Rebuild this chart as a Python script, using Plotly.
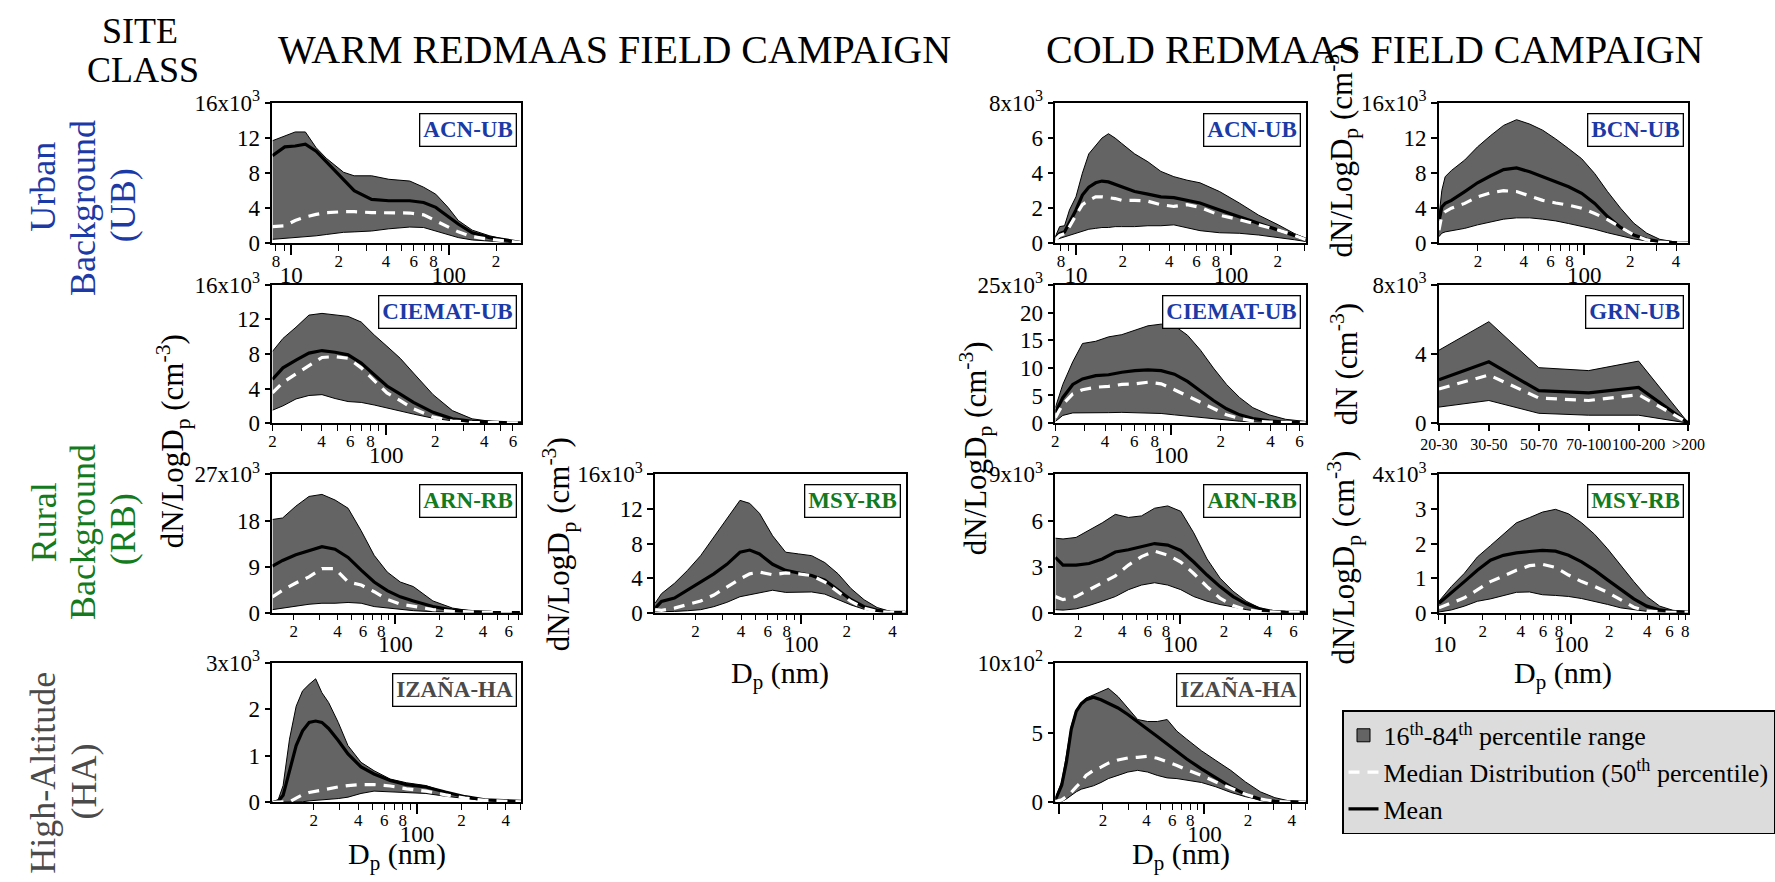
import math
import plotly.graph_objects as go

W, H = 1775, 882
SERIF = "Liberation Serif"
BLUE = "#1c3aa6"
GREEN = "#137a1e"
GREY_T = "#4a4a4a"
FILL = "#646464"

# ---------------- DATA (dN/dlogDp in units of the axis multiplier) ----------------
# WARM campaign
w_acn_dp = [7.6, 9.1, 10.6, 12.3, 14.4, 16.7, 21.5, 25.1, 32.4, 41.7, 56.6, 69.3, 82.8, 99, 115, 141, 182, 235, 288]
w_acn_p84 = [11.7, 12.2, 12.7, 12.7, 10.9, 9.7, 8.1, 7.7, 7.7, 7.3, 7.1, 6.4, 5.6, 4.1, 2.6, 1.5, 0.85, 0.4, 0.1]
w_acn_mean = [10.0, 11.0, 11.1, 11.3, 10.5, 9.3, 7.3, 6.0, 5.0, 4.85, 4.85, 4.65, 4.1, 3.1, 2.2, 1.2, 0.65, 0.35, 0.08]
w_acn_median = [1.9, 2.0, 2.6, 3.0, 3.3, 3.5, 3.6, 3.6, 3.5, 3.5, 3.45, 3.25, 2.55, 1.9, 1.3, 0.76, 0.45, 0.25, 0.05]
w_acn_p16 = [0.45, 0.55, 0.65, 0.75, 0.85, 1.0, 1.25, 1.3, 1.4, 1.65, 1.85, 1.8, 1.4, 0.95, 0.65, 0.38, 0.22, 0.12, 0.04]

w_ciem_dp = [20, 23.2, 27.9, 33.5, 40.3, 48.5, 58.3, 70.2, 84.4, 101, 122, 147, 194, 255, 337, 444, 586, 673]
w_ciem_p84 = [8.3, 9.8, 11.1, 12.5, 12.7, 12.5, 12.35, 11.7, 10.2, 8.9, 7.5, 5.8, 3.3, 1.45, 0.5, 0.2, 0.08, 0.04]
w_ciem_mean = [5.05, 6.4, 7.3, 8.1, 8.4, 8.2, 7.9, 6.95, 5.6, 4.3, 3.35, 2.4, 1.25, 0.5, 0.2, 0.08, 0.04, 0.03]
w_ciem_median = [3.5, 4.7, 5.7, 6.6, 7.6, 7.7, 7.5, 6.4, 4.9, 3.5, 2.6, 1.65, 0.7, 0.25, 0.08, 0.03, 0.03, 0.03]
w_ciem_p16 = [1.5, 2.0, 2.8, 3.2, 3.3, 2.85, 2.5, 2.4, 2.1, 1.75, 1.4, 1.05, 0.57, 0.27, 0.1, 0.05, 0.02, 0.02]

w_arn_dp = [14.3, 16.8, 20.7, 25.5, 31.3, 38.5, 47.3, 58.2, 71.5, 87.9, 108, 133, 181, 247, 336, 458, 625, 730]
w_arn_p84 = [18.2, 18.5, 20.8, 22.7, 23.1, 22.0, 20.4, 16.0, 11.2, 7.95, 6.0, 5.1, 2.3, 0.9, 0.32, 0.13, 0.05, 0.03]
w_arn_mean = [9.1, 10.2, 11.3, 12.1, 12.9, 12.4, 10.8, 8.3, 6.0, 4.3, 3.1, 2.3, 1.2, 0.5, 0.2, 0.07, 0.03, 0.02]
w_arn_median = [3.1, 4.4, 5.8, 7.0, 8.6, 8.6, 6.0, 5.4, 4.1, 2.6, 1.7, 1.2, 0.6, 0.25, 0.1, 0.04, 0.02, 0.01]
w_arn_p16 = [0.6, 0.9, 1.2, 1.65, 1.85, 1.85, 2.0, 1.85, 1.2, 0.9, 0.6, 0.4, 0.2, 0.08, 0.03, 0.03, 0.03, 0.03]

w_msy_dp = [10.8, 11.9, 14.5, 17.7, 21.6, 26.4, 32.2, 39.3, 45.6, 52.9, 64.6, 78.8, 96.1, 117, 143, 175, 213, 260, 317, 387, 489]
w_msy_p84 = [1.1, 2.2, 3.4, 4.9, 6.6, 8.7, 10.9, 13.0, 12.65, 11.5, 8.9, 7.0, 6.8, 6.6, 5.8, 4.5, 2.8, 1.5, 0.6, 0.15, 0.08]
w_msy_mean = [0.5, 1.3, 1.7, 2.6, 3.6, 4.5, 5.6, 7.0, 7.25, 6.8, 5.6, 4.9, 4.6, 4.3, 3.75, 2.6, 1.5, 0.7, 0.27, 0.08, 0.04]
w_msy_median = [0.35, 0.27, 0.53, 0.9, 1.35, 2.05, 3.0, 3.9, 4.5, 4.7, 4.4, 4.6, 4.5, 4.3, 3.55, 2.4, 1.3, 0.53, 0.15, 0.05, 0.02]
w_msy_p16 = [0.1, 0.1, 0.15, 0.23, 0.35, 0.7, 1.2, 1.85, 2.05, 2.25, 2.6, 2.35, 2.4, 2.4, 2.15, 1.55, 0.9, 0.4, 0.15, 0.05, 0.02]

w_iza_dp = [10.5, 11.5, 12.4, 13.7, 15.2, 16.8, 18.6, 20.6, 22.7, 25.2, 29.3, 34.1, 41.8, 51.2, 65.9, 85.0, 115, 156, 212, 287, 389, 507]
w_iza_p84 = [0.01, 0.06, 0.36, 1.36, 2.07, 2.4, 2.54, 2.66, 2.36, 2.15, 1.72, 1.22, 0.86, 0.68, 0.5, 0.42, 0.36, 0.22, 0.11, 0.05, 0.03, 0.02]
w_iza_mean = [0.0, 0.02, 0.15, 0.65, 1.22, 1.54, 1.72, 1.75, 1.72, 1.59, 1.33, 1.04, 0.76, 0.61, 0.47, 0.38, 0.33, 0.22, 0.12, 0.05, 0.03, 0.02]
w_iza_median = [0, 0, 0, 0.01, 0.09, 0.16, 0.21, 0.24, 0.27, 0.29, 0.33, 0.36, 0.38, 0.38, 0.35, 0.29, 0.24, 0.16, 0.09, 0.04, 0.02, 0.01]
w_iza_p16 = [0, 0, 0, 0, 0.005, 0.01, 0.03, 0.04, 0.05, 0.06, 0.08, 0.11, 0.19, 0.24, 0.22, 0.21, 0.19, 0.13, 0.08, 0.035, 0.02, 0.01]

# COLD campaign
c_acn_dp = [7.36, 7.85, 8.44, 9.08, 10, 11.0, 12.1, 13.4, 14.7, 16.2, 17.9, 19.7, 23.9, 29.1, 35.3, 42.8, 52.0, 63.1, 84.4, 113, 151, 202, 257, 304]
c_acn_p84 = [0.38, 0.95, 1.0, 1.9, 2.65, 4.0, 5.1, 5.6, 6.0, 6.25, 6.0, 5.7, 5.1, 4.65, 4.1, 3.8, 3.6, 3.45, 2.95, 2.3, 1.6, 1.05, 0.55, 0.28]
c_acn_mean = [0.28, 0.55, 0.65, 1.15, 1.9, 2.75, 3.2, 3.45, 3.55, 3.5, 3.35, 3.2, 2.95, 2.8, 2.65, 2.6, 2.45, 2.3, 1.9, 1.5, 1.15, 0.75, 0.45, 0.22]
c_acn_median = [0.2, 0.45, 0.55, 0.95, 1.6, 2.2, 2.45, 2.65, 2.65, 2.6, 2.55, 2.45, 2.45, 2.4, 2.2, 2.1, 2.2, 2.05, 1.6, 1.35, 1.05, 0.75, 0.45, 0.2]
c_acn_p16 = [0.2, 0.28, 0.38, 0.47, 0.57, 0.72, 0.8, 0.85, 0.9, 0.9, 0.95, 0.95, 0.95, 1.0, 1.0, 1.05, 0.9, 0.72, 0.6, 0.57, 0.47, 0.34, 0.2, 0.1]

c_bcn_dp = [11.1, 11.6, 12.2, 13.4, 16.4, 19.9, 24.3, 29.5, 35.9, 43.8, 53.3, 64.9, 78.9, 96.1, 117, 142, 173, 211, 257, 313, 381, 483]
c_bcn_p84 = [3.0, 6.05, 7.6, 8.3, 9.5, 11.0, 12.3, 13.45, 14.1, 13.6, 12.9, 11.9, 10.8, 9.65, 7.95, 5.9, 4.0, 2.3, 1.15, 0.45, 0.2, 0.08]
c_bcn_mean = [2.45, 4.15, 4.55, 4.9, 5.9, 6.9, 7.7, 8.4, 8.6, 8.15, 7.6, 7.0, 6.45, 5.7, 4.55, 3.05, 1.8, 0.95, 0.45, 0.2, 0.08, 0.04]
c_bcn_median = [1.5, 3.2, 3.6, 4.0, 4.55, 5.3, 5.75, 6.0, 5.9, 5.4, 4.9, 4.6, 4.35, 4.0, 3.4, 2.7, 1.8, 0.95, 0.38, 0.12, 0.05, 0.02]
c_bcn_p16 = [0.75, 1.15, 1.3, 1.4, 1.7, 2.1, 2.45, 2.75, 2.9, 2.9, 2.75, 2.55, 2.25, 1.95, 1.6, 1.2, 0.85, 0.5, 0.27, 0.12, 0.05, 0.02]

c_ciem_dp = [20, 22.2, 25.5, 29.2, 35.1, 42.0, 50.5, 60.6, 72.7, 87.3, 105, 126, 151, 181, 217, 261, 313, 393, 494, 655]
c_ciem_p84 = [2.8, 7.0, 11.1, 14.4, 14.8, 15.6, 16.0, 16.8, 17.6, 17.9, 17.6, 15.9, 13.2, 9.95, 7.0, 4.6, 2.8, 1.5, 0.7, 0.3]
c_ciem_mean = [1.9, 4.6, 7.0, 8.0, 8.6, 8.75, 9.2, 9.5, 9.65, 9.5, 8.85, 7.55, 5.8, 4.1, 2.6, 1.5, 0.85, 0.4, 0.2, 0.1]
c_ciem_median = [1.0, 3.4, 5.3, 6.05, 6.5, 6.65, 7.0, 7.1, 7.4, 7.1, 6.05, 4.9, 3.7, 2.5, 1.5, 0.85, 0.4, 0.2, 0.1, 0.05]
c_ciem_p16 = [0.3, 1.4, 1.85, 1.9, 1.9, 1.9, 1.95, 1.9, 1.85, 1.75, 1.5, 1.25, 1.0, 0.77, 0.55, 0.35, 0.24, 0.12, 0.06, 0.03]

c_grn_bins = ["20-30", "30-50", "50-70", "70-100", "100-200", ">200"]
c_grn_p84 = [4.22, 5.87, 3.21, 3.04, 3.59, 0.0]
c_grn_mean = [2.51, 3.55, 1.88, 1.75, 2.07, 0.0]
c_grn_median = [1.98, 2.79, 1.46, 1.31, 1.65, 0.0]
c_grn_p16 = [0.93, 1.31, 0.57, 0.46, 0.46, 0.0]

c_arn_dp = [13.9, 15.7, 19.3, 23.7, 29.2, 35.9, 44.2, 54.3, 66.8, 82.2, 101, 124, 153, 188, 231, 284, 350, 430, 529, 730]
c_arn_p84 = [4.85, 4.8, 4.9, 5.35, 5.85, 6.4, 6.2, 6.3, 6.8, 6.95, 6.6, 5.2, 3.5, 2.25, 1.4, 0.75, 0.32, 0.1, 0.04, 0.02]
c_arn_mean = [3.6, 3.1, 3.1, 3.2, 3.5, 3.95, 4.1, 4.3, 4.5, 4.4, 4.05, 3.3, 2.45, 1.7, 1.05, 0.58, 0.26, 0.09, 0.04, 0.02]
c_arn_median = [1.05, 0.85, 1.05, 1.5, 1.9, 2.4, 3.1, 3.65, 4.0, 3.75, 3.3, 2.55, 1.7, 0.95, 0.47, 0.2, 0.08, 0.03, 0.02, 0.01]
c_arn_p16 = [0.2, 0.17, 0.25, 0.47, 0.75, 1.05, 1.5, 1.8, 1.95, 1.8, 1.5, 1.05, 0.75, 0.53, 0.38, 0.2, 0.08, 0.03, 0.02, 0.01]

c_msy_dp = [9.0, 11.3, 14.3, 18.1, 23.0, 29.1, 36.9, 46.8, 59.3, 75.2, 95.3, 121, 153, 194, 247, 313, 396, 502, 637, 847]
c_msy_p84 = [0.33, 0.76, 1.14, 1.61, 1.94, 2.27, 2.6, 2.75, 2.91, 2.99, 2.86, 2.6, 2.27, 1.85, 1.37, 0.9, 0.47, 0.19, 0.07, 0.03]
c_msy_mean = [0.27, 0.57, 0.9, 1.23, 1.52, 1.66, 1.73, 1.77, 1.8, 1.78, 1.66, 1.47, 1.23, 0.95, 0.66, 0.4, 0.19, 0.08, 0.03, 0.02]
c_msy_median = [0.14, 0.28, 0.43, 0.66, 0.9, 1.06, 1.23, 1.36, 1.4, 1.31, 1.09, 0.9, 0.76, 0.59, 0.38, 0.16, 0.05, 0.02, 0.01, 0.01]
c_msy_p16 = [0.02, 0.08, 0.19, 0.33, 0.4, 0.5, 0.59, 0.6, 0.52, 0.5, 0.47, 0.41, 0.33, 0.24, 0.14, 0.08, 0.04, 0.02, 0.01, 0.01]

c_iza_dp = [9.4, 10.4, 11.2, 12.1, 13.1, 14.2, 15.3, 17.2, 19.4, 21.8, 25.4, 29.7, 34.7, 40.6, 47.4, 55.4, 64.7, 75.6, 95.4, 120, 152, 192, 243, 306, 387, 500]
c_iza_p84 = [0.28, 1.46, 3.35, 5.47, 6.65, 7.12, 7.48, 7.71, 7.95, 8.18, 7.59, 6.77, 5.94, 5.8, 5.8, 5.94, 5.1, 4.53, 3.7, 3.0, 2.29, 1.46, 0.75, 0.33, 0.09, 0.02]
c_iza_mean = [0.17, 1.23, 2.88, 5.24, 6.53, 7.08, 7.36, 7.55, 7.36, 7.12, 6.77, 6.3, 5.75, 5.24, 4.72, 4.17, 3.63, 3.11, 2.4, 1.75, 1.11, 0.57, 0.21, 0.07, 0.02, 0.01]
c_iza_median = [0.05, 0.17, 0.4, 0.71, 1.11, 1.46, 1.93, 2.29, 2.52, 2.81, 3.04, 3.18, 3.23, 3.3, 3.16, 2.92, 2.64, 2.33, 1.93, 1.46, 0.99, 0.57, 0.24, 0.07, 0.02, 0.01]
c_iza_p16 = [0, 0.05, 0.24, 0.52, 0.75, 0.94, 1.04, 1.18, 1.42, 1.7, 1.93, 2.17, 2.29, 2.17, 1.93, 1.75, 1.7, 1.58, 1.42, 1.11, 0.71, 0.4, 0.17, 0.05, 0.01, 0]

# ---------------- PANELS (pixel boxes: left, top, right, bottom) ----------------
R1, R2, R3, R4 = (90, 235), (278, 421), (474, 617), (669, 813)
CW1, CW2, CC1, CC2 = (259, 513), (650, 906), (1059, 1315), (1451, 1706)


def box(c, r):
    return (c[0], r[0], c[1], r[1])


panels = [
    dict(box=box(CW1, R1), xr=(7.6, 288), ymax=16, ystep=4, exp=3, label="ACN-UB", lc=BLUE,
         d=(w_acn_dp, w_acn_p16, w_acn_p84, w_acn_mean, w_acn_median)),
    dict(box=box(CW1, R2), xr=(20, 673), ymax=16, ystep=4, exp=3, label="CIEMAT-UB", lc=BLUE,
         d=(w_ciem_dp, w_ciem_p16, w_ciem_p84, w_ciem_mean, w_ciem_median)),
    dict(box=box(CW1, R3), xr=(14.3, 730), ymax=27, ystep=9, exp=3, label="ARN-RB", lc=GREEN,
         d=(w_arn_dp, w_arn_p16, w_arn_p84, w_arn_mean, w_arn_median)),
    dict(box=box(CW2, R3), xr=(10.8, 489), ymax=16, ystep=4, exp=3, label="MSY-RB", lc=GREEN,
         d=(w_msy_dp, w_msy_p16, w_msy_p84, w_msy_mean, w_msy_median)),
    dict(box=box(CW1, R4), xr=(10.5, 507), ymax=3, ystep=1, exp=3, label="IZAÑA-HA", lc=GREY_T,
         d=(w_iza_dp, w_iza_p16, w_iza_p84, w_iza_mean, w_iza_median)),
    dict(box=box(CC1, R1), xr=(7.36, 304), ymax=8, ystep=2, exp=3, label="ACN-UB", lc=BLUE,
         d=(c_acn_dp, c_acn_p16, c_acn_p84, c_acn_mean, c_acn_median)),
    dict(box=box(CC2, R1), xr=(11.1, 483), ymax=16, ystep=4, exp=3, label="BCN-UB", lc=BLUE,
         d=(c_bcn_dp, c_bcn_p16, c_bcn_p84, c_bcn_mean, c_bcn_median)),
    dict(box=box(CC1, R2), xr=(20, 655), ymax=25, ystep=5, exp=3, label="CIEMAT-UB", lc=BLUE,
         d=(c_ciem_dp, c_ciem_p16, c_ciem_p84, c_ciem_mean, c_ciem_median)),
    dict(box=box(CC2, R2), xr=None, ymax=8, ystep=4, exp=3, label="GRN-UB", lc=BLUE,
         d=(c_grn_bins, c_grn_p16, c_grn_p84, c_grn_mean, c_grn_median)),
    dict(box=box(CC1, R3), xr=(13.9, 730), ymax=9, ystep=3, exp=3, label="ARN-RB", lc=GREEN,
         d=(c_arn_dp, c_arn_p16, c_arn_p84, c_arn_mean, c_arn_median)),
    dict(box=box(CC2, R3), xr=(9.0, 847), ymax=4, ystep=1, exp=3, label="MSY-RB", lc=GREEN,
         d=(c_msy_dp, c_msy_p16, c_msy_p84, c_msy_mean, c_msy_median)),
    dict(box=box(CC1, R4), xr=(9.4, 500), ymax=10, ystep=5, exp=2, label="IZAÑA-HA", lc=GREY_T,
         hide_dec=[10],
         d=(c_iza_dp, c_iza_p16, c_iza_p84, c_iza_mean, c_iza_median)),
]

LEG_BAND = "16<sup>th</sup>-84<sup>th</sup> percentile range"
LEG_MED = "Median Distribution (50<sup>th</sup> percentile)"
LEG_MEAN = "Mean"


def px(x):
    return x / W


def py(y):
    return 1 - y / H


def ax_id(letter, n):
    return letter if n == 1 else f"{letter}{n}"


def log_ticks(xmin, xmax):
    decades, minors, labeled = [], [], []
    for e in range(0, 4):
        for m in range(1, 10):
            v = m * 10 ** e
            if xmin * 0.995 <= v <= xmax * 1.005:
                if m == 1:
                    decades.append(v)
                else:
                    minors.append(v)
                    if m % 2 == 0:
                        labeled.append((v, str(m)))
    return decades, minors, labeled


fig = go.Figure()
layout = dict(
    width=W, height=H, autosize=False,
    margin=dict(l=0, r=0, t=0, b=0),
    paper_bgcolor="white", plot_bgcolor="white",
    font=dict(family=SERIF, color="black"),
    showlegend=True,
)
annotations = []
n_p = len(panels)

for i, p in enumerate(panels):
    n = i + 1
    xa, ya = ax_id("x", n), ax_id("y", n)
    x0, y0, x1, y1 = p["box"]
    dp, p16, p84, mean, med = p["d"]
    first = (i == 0)
    # mean / median lines go on the overlay axis that carries the 2-4-6-8 labels
    xl = xa if p["xr"] is None else f"x{n_p + n}"

    fig.add_trace(go.Scatter(x=dp, y=p16, xaxis=xa, yaxis=ya, mode="lines",
                             line=dict(color="black", width=1), showlegend=False, hoverinfo="skip"))
    fig.add_trace(go.Scatter(x=dp, y=p84, xaxis=xa, yaxis=ya, mode="lines", fill="tonexty",
                             fillcolor=FILL, line=dict(color="black", width=1),
                             name=LEG_BAND, showlegend=False))
    fig.add_trace(go.Scatter(x=dp, y=mean, xaxis=xl, yaxis=ya, mode="lines",
                             line=dict(color="black", width=3.2),
                             name=LEG_MEAN, showlegend=first, legendrank=3))
    fig.add_trace(go.Scatter(x=dp, y=med, xaxis=xl, yaxis=ya, mode="lines",
                             line=dict(color="white", width=3.2, dash="11px,8px"),
                             name=LEG_MED, showlegend=first, legendrank=2))
    if first:
        # legend key for the percentile band (small grey square as in the original)
        fig.add_trace(go.Scatter(x=[None], y=[None], xaxis=xa, yaxis=ya, mode="markers",
                                 marker=dict(symbol="square", size=13, color=FILL,
                                             line=dict(color="black", width=1)),
                                 name=LEG_BAND, showlegend=True, legendrank=1))

    yvals = [k * p["ystep"] for k in range(int(round(p["ymax"] / p["ystep"])) + 1)]
    ytext = [str(v) for v in yvals]
    ytext[-1] = f"{p['ymax']}x10<sup>{p['exp']}</sup>"
    layout[f"yaxis{n}"] = dict(
        domain=[py(y1), py(y0)], anchor=xa, range=[0, p["ymax"]],
        tickvals=yvals, ticktext=ytext, ticks="outside", ticklen=6, tickwidth=1.5,
        tickcolor="black", tickfont=dict(size=23, family=SERIF),
        showline=True, mirror=True, linecolor="black", linewidth=1.5,
        showgrid=False, zeroline=False, fixedrange=True,
    )

    if p["xr"] is None:
        layout[f"xaxis{n}"] = dict(
            domain=[px(x0), px(x1)], anchor=ya, type="category",
            range=[0, len(dp) - 1], tickvals=dp, ticks="outside", ticklen=6, tickwidth=1.5,
            tickcolor="black", tickfont=dict(size=16, family=SERIF), tickangle=0,
            showline=True, mirror=True, linecolor="black", linewidth=1.5,
            showgrid=False, zeroline=False, fixedrange=True,
        )
    else:
        xmin, xmax = p["xr"]
        decades, minors, labeled = log_ticks(xmin, xmax)
        hide = p.get("hide_dec", [])
        rng = [math.log10(xmin), math.log10(xmax)]
        layout[f"xaxis{n}"] = dict(
            domain=[px(x0), px(x1)], anchor=ya, type="log", range=rng,
            tickvals=decades, ticktext=["" if d in hide else str(d) for d in decades],
            ticks="outside", ticklen=10, tickwidth=1.5, tickcolor="black",
            tickfont=dict(size=23, family=SERIF),
            minor=dict(tickvals=minors, ticks="outside", ticklen=6, tickwidth=1.2,
                       tickcolor="black", showgrid=False),
            showline=True, mirror=True, linecolor="black", linewidth=1.5,
            showgrid=False, zeroline=False, fixedrange=True,
        )
        layout[f"xaxis{n_p + n}"] = dict(
            overlaying=xa, anchor=ya, side="bottom", type="log", range=rng,
            tickvals=[v for v, _ in labeled], ticktext=[t for _, t in labeled],
            ticks="", tickfont=dict(size=17, family=SERIF), tickangle=0,
            ticklabelstandoff=6,
            showline=False, showgrid=False, zeroline=False, fixedrange=True,
        )

    annotations.append(dict(
        text=f"<b>{p['label']}</b>", xref=f"{xa} domain", yref=f"{ya} domain",
        x=0.982, y=0.93, xanchor="right", yanchor="top", showarrow=False,
        font=dict(size=23, color=p["lc"], family=SERIF),
        bgcolor="white", bordercolor="black", borderwidth=1.3, borderpad=3,
    ))


def text_ann(t, x, y, size, color="black", angle=0):
    annotations.append(dict(text=t, x=px(x), y=py(y), xref="paper", yref="paper",
                            xanchor="center", yanchor="middle", showarrow=False,
                            textangle=angle, font=dict(size=size, color=color, family=SERIF)))


# titles
text_ann("SITE", 124, 16, 36)
text_ann("CLASS", 127, 56, 36)
text_ann("WARM REDMAAS FIELD CAMPAIGN", 609, 35, 40)
text_ann("COLD REDMAAS FIELD CAMPAIGN", 1385, 35, 40)

# site class labels
text_ann("Urban", 25, 176, 36, BLUE, -90)
text_ann("Background", 66, 199, 36, BLUE, -90)
text_ann("(UB)", 106, 196, 36, BLUE, -90)
text_ann("Rural", 25, 523, 36, GREEN, -90)
text_ann("Background", 66, 534, 36, GREEN, -90)
text_ann("(RB)", 106, 531, 36, GREEN, -90)
text_ann("High-Altitude", 25, 782, 36, GREY_T, -90)
text_ann("(HA)", 66, 792, 36, GREY_T, -90)

# axis titles
YT = "dN/LogD<sub>p</sub> (cm<sup>-3</sup>)"
text_ann(YT, 157, 440, 31, angle=-90)
text_ann(YT, 552, 546, 31, angle=-90)
text_ann(YT, 978, 447, 31, angle=-90)
text_ann(YT, 1352, 139, 31, angle=-90)
text_ann("dN (cm<sup>-3</sup>)", 1354, 360, 31, angle=-90)
text_ann(YT, 1354, 560, 31, angle=-90)
XT = "D<sub>p</sub> (nm)"
text_ann(XT, 386, 869, 30)
text_ann(XT, 778, 681, 30)
text_ann(XT, 1187, 869, 30)
text_ann(XT, 1578, 681, 30)

layout["annotations"] = annotations
layout["legend"] = dict(
    x=px(1352), y=py(718), xanchor="left", yanchor="top",
    bgcolor="#dcdcdc", bordercolor="black", borderwidth=1.5,
    font=dict(size=26, family=SERIF, color="black"),
    itemwidth=30, tracegroupgap=0, traceorder="normal",
)
fig.update_layout(**layout)
fig.write_html("out.html", config={"displayModeBar": False})
